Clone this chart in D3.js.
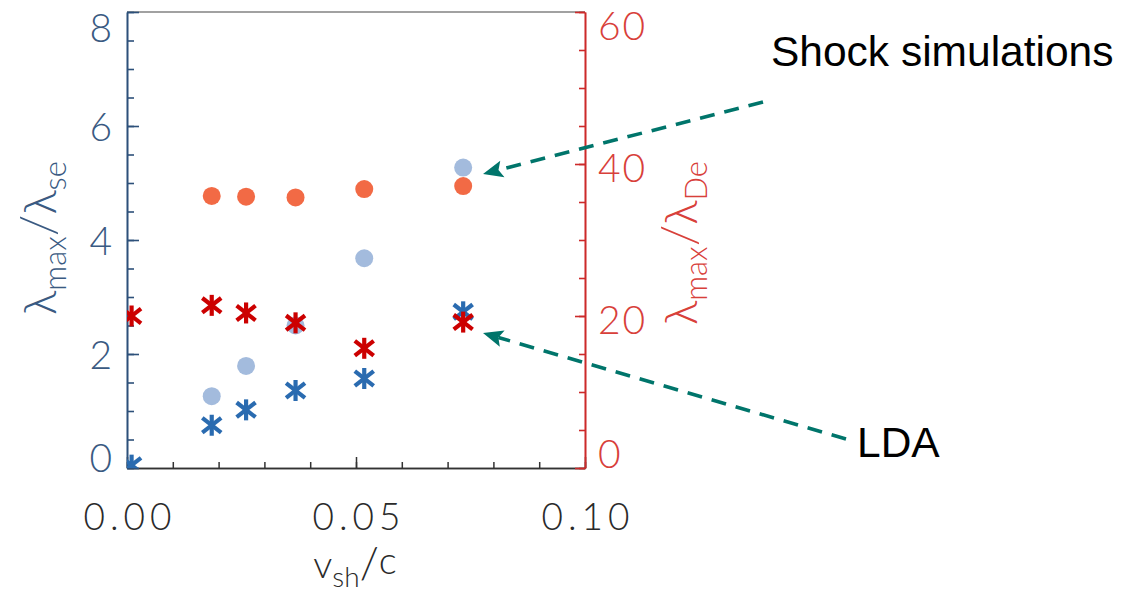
<!DOCTYPE html>
<html>
<head>
<meta charset="utf-8">
<script src="https://cdn.jsdelivr.net/npm/d3@7"></script>
<style>
  html, body { margin: 0; padding: 0; background: #fff; }
  svg { display: block; }
</style>
</head>
<body>
<svg id="chart" width="1135" height="594"></svg>
<script>
// ---- data ----
const shockX  = [0.0185, 0.026, 0.0368, 0.0518, 0.0734];
const shockSe = [1.26, 1.79, 2.50, 3.68, 5.27];      // light blue circles, left axis
const shockDe = [35.8, 35.7, 35.6, 36.7, 37.1];      // orange circles, right axis
const ldaX    = [0.001, 0.0185, 0.026, 0.0368, 0.0518, 0.0734];
const ldaSe   = [0.05, 0.75, 1.02, 1.36, 1.57, 2.74]; // blue asterisks, left axis
const ldaDe   = [20.0, 21.4, 20.4, 19.1, 15.75, 19.2]; // red asterisks, right axis
const xTicks  = [0, 0.05, 0.10];
const xTickLabels = ["0.00", "0.05", "0.10"];
const yLeftTicks  = [0, 2, 4, 6, 8];
const yRightTicks = [0, 20, 40, 60];
const annotations = ["Shock simulations", "LDA"];

// ---- layout ----
const L = 127, R = 585, T = 12, B = 468;
const svg = d3.select("#chart");
const FONT = 'Lato, "DejaVu Sans", sans-serif';

const x  = d3.scaleLinear().domain([0, 0.10]).range([L, R]);
const yL = d3.scaleLinear().domain([0, 8]).range([B, T]);
const yR = d3.scaleLinear().domain([0, 60]).range([B, T]);

const cLeft = "#3a5a82", cLeftLine = "#2d507a";
const cRight = "#d8403a", cRightLine = "#cc2a2a";
const cAxis = "#333333";

// frame top line
svg.append("line").attr("x1", L).attr("x2", R).attr("y1", T).attr("y2", T)
   .attr("stroke", "#444").attr("stroke-width", 1.2);

// ---- bottom axis ----
const gxMinor = svg.append("g").attr("transform", `translate(0,${B})`)
  .call(d3.axisTop(x).tickValues(d3.range(0, 0.1001, 0.01)).tickSize(6).tickSizeOuter(0).tickFormat(""));
const gxMajor = svg.append("g").attr("transform", `translate(0,${B})`)
  .call(d3.axisTop(x).tickValues(xTicks).tickSize(11).tickSizeOuter(0).tickFormat(""));
[gxMinor, gxMajor].forEach(g => g.selectAll("path, line").attr("stroke", cAxis).attr("stroke-width", 1.5));
svg.append("g").selectAll("text").data(xTicks).join("text")
   .attr("x", d => x(d) + 3).attr("y", 530)
   .attr("text-anchor", "middle")
   .attr("font-family", FONT).attr("font-weight", 300)
   .attr("font-size", 37).attr("letter-spacing", 5).attr("fill", "#2a2a2a")
   .text((d, i) => xTickLabels[i]);

// ---- left axis ----
const glMinor = svg.append("g").attr("transform", `translate(${L},0)`)
  .call(d3.axisLeft(yL).tickValues(d3.range(0, 8.01, 0.5)).tickSize(-7).tickSizeOuter(0).tickFormat(""));
const glMajor = svg.append("g").attr("transform", `translate(${L},0)`)
  .call(d3.axisLeft(yL).tickValues(yLeftTicks).tickSize(-12).tickSizeOuter(0).tickFormat(""));
[glMinor, glMajor].forEach(g => g.selectAll("path, line").attr("stroke", cLeftLine).attr("stroke-width", 1.6));
svg.append("g").selectAll("text").data(yLeftTicks).join("text")
   .attr("x", 112).attr("y", d => d === 8 ? yL(d) + 30 : d === 0 ? yL(d) + 4 : yL(d) + 15)
   .attr("text-anchor", "end")
   .attr("font-family", FONT).attr("font-weight", 300)
   .attr("font-size", 39).attr("fill", cLeft)
   .text(d => d);

// ---- right axis ----
const grMinor = svg.append("g").attr("transform", `translate(${R},0)`)
  .call(d3.axisRight(yR).tickValues(d3.range(0, 60.01, 5)).tickSize(-6).tickSizeOuter(0).tickFormat(""));
const grMajor = svg.append("g").attr("transform", `translate(${R},0)`)
  .call(d3.axisRight(yR).tickValues(yRightTicks).tickSize(-10).tickSizeOuter(0).tickFormat(""));
[grMinor, grMajor].forEach(g => g.selectAll("path, line").attr("stroke", cRightLine).attr("stroke-width", 1.6));
svg.append("g").selectAll("text").data(yRightTicks).join("text")
   .attr("x", 598).attr("y", d => d === 60 ? yR(d) + 28 : d === 0 ? yR(d) : yR(d) + 18)
   .attr("text-anchor", "start")
   .attr("font-family", FONT).attr("font-weight", 300)
   .attr("font-size", 39).attr("letter-spacing", 2).attr("fill", cRight)
   .text(d => d);

// ---- axis titles ----
function ratioTitle(g, sub1, sub2, color) {
  const t = g.append("text")
    .attr("font-family", FONT).attr("font-weight", 300)
    .attr("font-size", 46).attr("fill", color).attr("text-anchor", "middle");
  t.append("tspan").text("λ");
  t.append("tspan").attr("dy", 10).attr("font-size", 31).text(sub1);
  t.append("tspan").attr("dy", -10).attr("font-size", 50).text("/");
  t.append("tspan").text("λ");
  t.append("tspan").attr("dy", 10).attr("font-size", 31).text(sub2);
  return t;
}
ratioTitle(svg.append("g").attr("transform", "translate(56,238) rotate(-90)"), "max", "se", cLeft);
ratioTitle(svg.append("g").attr("transform", "translate(697,243) rotate(-90)"), "max", "De", cRight);

const xt = svg.append("text").attr("x", 355).attr("y", 578).attr("text-anchor", "middle")
  .attr("font-family", FONT).attr("font-weight", 300)
  .attr("font-size", 38).attr("fill", "#2a2a2a");
xt.append("tspan").text("v");
xt.append("tspan").attr("dy", 9).attr("font-size", 28).text("sh");
xt.append("tspan").attr("dy", -9).attr("font-size", 44).text("/");
xt.append("tspan").attr("dy", -4).text("c");

// ---- marks ----
const defs = svg.append("defs");
defs.append("clipPath").attr("id", "plotclip")
   .append("rect").attr("x", L).attr("y", T).attr("width", R - L).attr("height", B - T);
const marks = svg.append("g").attr("clip-path", "url(#plotclip)");

marks.selectAll(".se").data(shockX).join("circle")
  .attr("cx", d => x(d)).attr("cy", (d, i) => yL(shockSe[i])).attr("r", 9)
  .attr("fill", "#a3bbdd");
marks.selectAll(".de").data(shockX).join("circle")
  .attr("cx", d => x(d)).attr("cy", (d, i) => yR(shockDe[i])).attr("r", 9)
  .attr("fill", "#f26a45");

function asterisk(g, cx, cy, color) {
  const s = 10.5;
  const a = g.append("g").attr("transform", `translate(${cx},${cy})`)
    .attr("stroke", color).attr("stroke-width", 4.2).attr("stroke-linecap", "butt");
  a.append("line").attr("x1", 0).attr("y1", -s).attr("x2", 0).attr("y2", s);
  a.append("line").attr("x1", -s*0.9).attr("y1", -s*0.7).attr("x2", s*0.9).attr("y2", s*0.7);
  a.append("line").attr("x1", -s*0.9).attr("y1", s*0.7).attr("x2", s*0.9).attr("y2", -s*0.7);
}
ldaX.forEach((d, i) => asterisk(marks, x(d), yL(ldaSe[i]), "#2a6bb0"));
ldaX.forEach((d, i) => asterisk(marks, x(d), yR(ldaDe[i]), "#cc0000"));

// ---- annotations ----
const teal = "#00756b";
function dashedArrow(x1, y1, x2, y2) {
  const ang = Math.atan2(y2 - y1, x2 - x1);
  const len = 20, hw = 8.5, notch = 4;
  const ux = Math.cos(ang), uy = Math.sin(ang);
  const bx = x2 - ux * len, by = y2 - uy * len;
  const nx = -uy, ny = ux;
  svg.append("line").attr("x1", x1).attr("y1", y1)
    .attr("x2", x2 - ux * (len - 4)).attr("y2", y2 - uy * (len - 4))
    .attr("stroke", teal).attr("stroke-width", 3.6).attr("stroke-dasharray", "15,10");
  const pts = [[x2, y2], [bx + nx * hw, by + ny * hw],
               [x2 - ux * (len - notch), y2 - uy * (len - notch)], [bx - nx * hw, by - ny * hw]];
  svg.append("path").attr("d", "M" + pts.map(p => p.join(",")).join("L") + "Z").attr("fill", teal);
}
dashedArrow(763, 102, 483, 174);
dashedArrow(846, 439, 483, 333);

svg.append("text").attr("x", 771).attr("y", 66)
  .attr("font-family", '"Liberation Sans", Arial, sans-serif').attr("font-size", 42.5)
  .attr("fill", "#000").text(annotations[0]);
svg.append("text").attr("x", 857).attr("y", 457)
  .attr("font-family", '"Liberation Sans", Arial, sans-serif').attr("font-size", 42.5)
  .attr("fill", "#000").text(annotations[1]);
</script>
</body>
</html>
